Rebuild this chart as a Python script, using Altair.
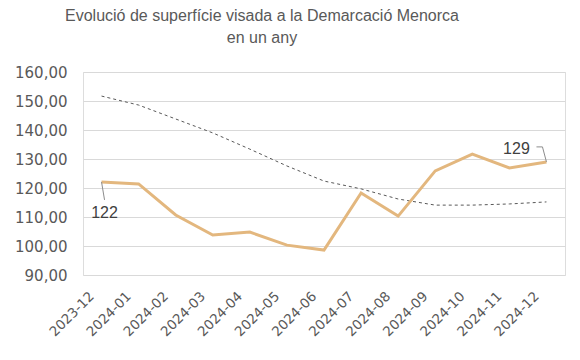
import altair as alt
import pandas as pd

months = ["2023-12", "2024-01", "2024-02", "2024-03", "2024-04", "2024-05", "2024-06",
          "2024-07", "2024-08", "2024-09", "2024-10", "2024-11", "2024-12"]
superficie = [122.1, 121.4, 110.7, 103.8, 104.8, 100.3, 98.6, 118.3, 110.3, 125.9, 131.7, 126.9, 129.0]
tendencia = [151.7, 148.6, 143.8, 139.0, 133.4, 127.6, 122.4, 119.7, 116.2, 114.1, 114.1, 114.5, 115.2]
y_ticks = [90, 100, 110, 120, 130, 140, 150, 160]

df = pd.DataFrame({"mes": months, "sup": superficie, "tend": tendencia})
first_df = df.iloc[[0]].assign(lbl=["122"])
last_df = df.iloc[[-1]].assign(lbl=["129"])

FONT = "Liberation Sans"
AXFONT = "DejaVu Sans"
GREY = "#595959"

x = alt.X("mes:O", scale=alt.Scale(type="point", padding=0.5),
          axis=alt.Axis(title=None, labelAngle=-45, labelFontSize=13.5, labelColor=GREY,
                        labelFont=AXFONT, ticks=False, domain=False, grid=False,
                        labelPadding=14, labelOffset=-15, labelOverlap=False))
y_scale = alt.Scale(domain=[90, 160], nice=False, zero=False)
y_axis = alt.Axis(title=None, values=y_ticks,
                  labelExpr="replace(format(datum.value, '.2f'), '.', ',')",
                  labelFontSize=15, labelColor=GREY, labelFont=AXFONT, ticks=False,
                  domain=False, gridColor="#d9d9d9", gridWidth=1, labelPadding=16,
                  labelOverlap=False)

base = alt.Chart(df)
trend = base.mark_line(color=GREY, strokeWidth=1, strokeDash=[3, 3]).encode(
    x=x, y=alt.Y("tend:Q", scale=y_scale, axis=y_axis))
line = base.mark_line(color="#E3B77E", strokeWidth=3).encode(
    x=x, y=alt.Y("sup:Q", scale=y_scale, axis=y_axis))

def yv():
    return alt.Y("sup:Q", scale=y_scale, axis=y_axis)

r1 = alt.Chart(first_df).mark_rule(color="#8c8c8c", strokeWidth=1, x2Offset=3, y2Offset=18).encode(
    x="mes:O", y=yv(), x2="mes:O", y2="sup:Q")
t1 = alt.Chart(first_df).mark_text(font=FONT, fontSize=16, color="#404040", dx=3, dy=31,
                                   baseline="middle").encode(
    x="mes:O", y=yv(), text="lbl:N")
r2 = alt.Chart(last_df).mark_rule(color="#8c8c8c", strokeWidth=1, x2Offset=-4, y2Offset=-15).encode(
    x="mes:O", y=yv(), x2="mes:O", y2="sup:Q")
r3 = alt.Chart(last_df).mark_rule(color="#8c8c8c", strokeWidth=1, xOffset=-4, yOffset=-15,
                                  x2Offset=-10, y2Offset=-15).encode(
    x="mes:O", y=yv(), x2="mes:O", y2="sup:Q")
t2 = alt.Chart(last_df).mark_text(font=FONT, fontSize=16, color="#404040", dx=-30, dy=-13,
                                  baseline="middle").encode(
    x="mes:O", y=yv(), text="lbl:N")

chart = alt.layer(trend, line, r1, t1, r2, r3, t2).properties(
    width=482, height=203,
    autosize=alt.AutoSizeParams(type="none"),
    padding={"left": 75, "top": 64, "right": 7, "bottom": 77},
    title=alt.TitleParams(
        text=["Evolució de superfície visada a la Demarcació Menorca", "en un any"],
        font=FONT, fontSize=16, fontWeight="normal", color=GREY, anchor="middle",
        lineHeight=22, dx=-62, offset=19),
).configure_view(stroke=None).configure(background="white")

chart.save("out.html", embed_options={"renderer": "svg", "actions": False})
